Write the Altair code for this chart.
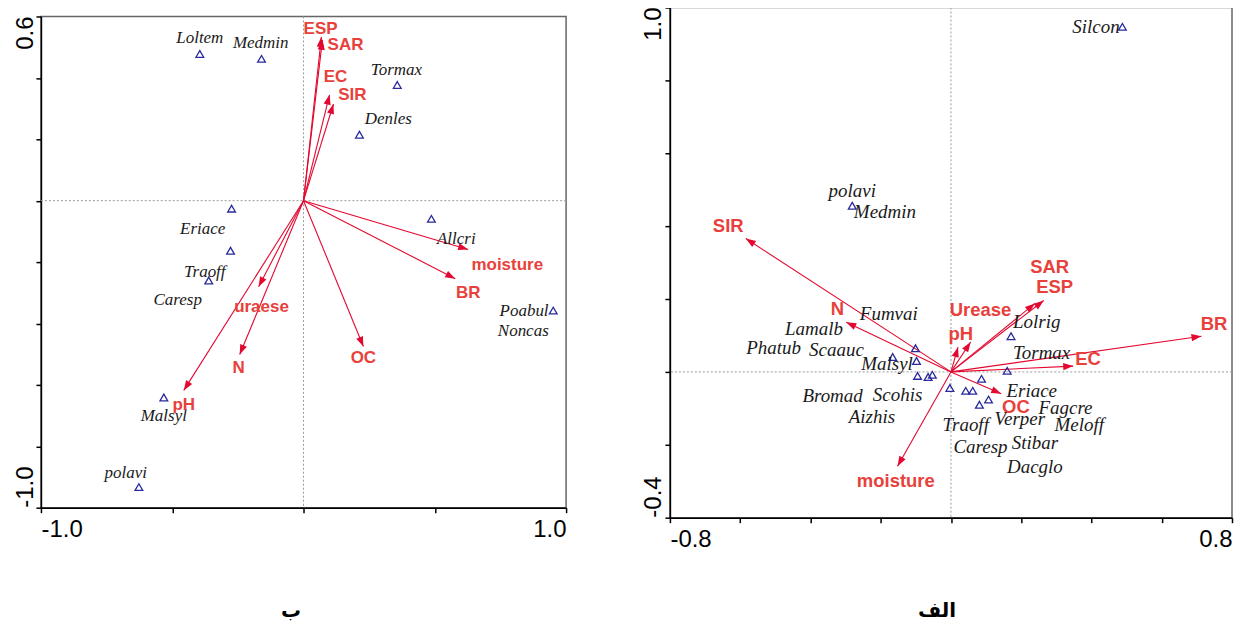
import math
import altair as alt
import pandas as pd

# ---------------- Left panel (ب) ----------------
L_sp_x = [-0.395, -0.160, 0.357, 0.213, 0.487, -0.274, -0.278, -0.361, -0.532, -0.627, 0.951]
L_sp_y = [0.478, 0.462, 0.377, 0.215, -0.059, -0.026, -0.163, -0.260, -0.641, -0.933, -0.358]
L_lab_names = ["Loltem", "Medmin", "Tormax", "Denles", "Allcri", "Eriace", "Traoff", "Caresp",
               "Malsyl", "polavi", "Poabul", "Noncas"]
L_lab_x = [-0.395, -0.163, 0.354, 0.323, 0.582, -0.384, -0.376, -0.479, -0.532, -0.677, 0.840, 0.837]
L_lab_y = [0.530, 0.514, 0.426, 0.267, -0.124, -0.091, -0.231, -0.325, -0.702, -0.888, -0.358, -0.426]
L_env_names = ["ESP", "SAR", "EC", "SIR", "moisture", "BR", "OC", "uraese", "N", "pH"]
L_env_x = [0.068, 0.072, 0.099, 0.114, 0.627, 0.578, 0.228, -0.171, -0.243, -0.456]
L_env_y = [0.533, 0.524, 0.345, 0.315, -0.159, -0.254, -0.475, -0.280, -0.501, -0.618]
L_envlab_x = [0.065, 0.160, 0.122, 0.186, 0.776, 0.627, 0.228, -0.160, -0.247, -0.456]
L_envlab_y = [0.559, 0.507, 0.403, 0.345, -0.208, -0.302, -0.514, -0.345, -0.546, -0.667]
L_xticks = [-1.0, -0.5, 0.0, 0.5, 1.0]
L_yticks = [-1.0, -0.8, -0.6, -0.4, -0.2, 0.0, 0.2, 0.4, 0.6]
L_xticklabels = {-1.0: "-1.0", 1.0: "1.0"}
L_yticklabels = {-1.0: "-1.0", 0.6: "0.6"}
L_caption = "ب"

# ---------------- Right panel (الف) ----------------
R_sp_x = [0.488, -0.281, -0.101, -0.166, -0.098, -0.095, -0.065, -0.053, -0.003, 0.042, 0.062,
          0.081, 0.107, 0.087, 0.160, 0.171]
R_sp_y = [0.947, 0.456, 0.065, 0.041, 0.030, -0.011, -0.014, -0.008, -0.044, -0.052, -0.052,
          -0.090, -0.076, -0.019, 0.003, 0.098]
R_lab_names = ["Silcon", "polavi", "Medmin", "Fumvai", "Lamalb", "Phatub", "Scaauc", "Malsyl",
               "Bromad", "Scohis", "Aizhis", "Traoff", "Caresp", "Verper", "Stibar", "Dacglo",
               "Eriace", "Fagcre", "Meloff", "Tormax", "Lolrig"]
R_lab_x = [0.413, -0.281, -0.188, -0.177, -0.390, -0.505, -0.326, -0.182, -0.337, -0.152, -0.225,
           0.042, 0.084, 0.196, 0.239, 0.239, 0.230, 0.326, 0.365, 0.258, 0.244]
R_lab_y = [0.947, 0.497, 0.439, 0.158, 0.117, 0.065, 0.060, 0.022, -0.065, -0.063, -0.123,
           -0.147, -0.207, -0.128, -0.196, -0.262, -0.052, -0.098, -0.147, 0.052, 0.136]
R_env_names = ["SIR", "N", "moisture", "pH", "Urease", "SAR", "ESP", "BR", "EC", "OC"]
R_env_x = [-0.584, -0.298, -0.152, 0.020, 0.056, 0.239, 0.264, 0.713, 0.348, 0.143]
R_env_y = [0.366, 0.136, -0.259, 0.068, 0.082, 0.188, 0.196, 0.098, 0.016, -0.060]
R_envlab_x = [-0.634, -0.323, -0.157, 0.028, 0.084, 0.281, 0.295, 0.749, 0.390, 0.185]
R_envlab_y = [0.401, 0.172, -0.300, 0.104, 0.169, 0.289, 0.232, 0.131, 0.035, -0.095]
R_xticks = [-0.8, -0.6, -0.4, -0.2, 0.0, 0.2, 0.4, 0.6, 0.8]
R_yticks = [-0.4, -0.2, 0.0, 0.2, 0.4, 0.6, 0.8, 1.0]
R_xticklabels = {-0.8: "-0.8", 0.8: "0.8"}
R_yticklabels = {-0.4: "-0.4", 1.0: "1.0"}
R_caption = "الف"

ARROW = "#e3082f"
LABEL_RED = "#e8413c"
TRI = "#2a2a9c"
HEAD = "M0,0 L-0.36,1 L0.36,1 Z"


def panel(sp_x, sp_y, lab_names, lab_x, lab_y, env_names, env_x, env_y, envlab_x, envlab_y,
          xdom, ydom, xticks, yticks, xticklabels, yticklabels, width, height,
          sp_font, env_font, caption, cap_x, cap_y, ylab_dy):
    kx = width / (xdom[1] - xdom[0])
    ky = height / (ydom[1] - ydom[0])
    expr = " : ".join(f"datum.value == {v} ? '{t}'" for v, t in xticklabels.items()) + " : ''"
    ax = alt.Axis(values=xticks, labelExpr=expr, labelFlush=True, title=caption,
                  titleX=cap_x, titleY=cap_y, titleBaseline="middle", titleAlign="center",
                  titleFont="DejaVu Sans", titleFontSize=20, titleFontWeight="bold")
    ay = alt.Axis(values=yticks, labels=False, title=None)
    sx = alt.Scale(domain=xdom, nice=False, zero=False)
    sy = alt.Scale(domain=ydom, nice=False, zero=False)
    X = alt.X("x:Q", scale=sx, axis=ax)
    Y = alt.Y("y:Q", scale=sy, axis=ay)

    env = pd.DataFrame({"name": env_names, "x": env_x, "y": env_y,
                        "ox": [0.0] * len(env_x), "oy": [0.0] * len(env_x)})
    env["ang"] = [(math.degrees(math.atan2(a * kx, b * ky)) + 360) % 360 for a, b in zip(env_x, env_y)]
    envlab = pd.DataFrame({"name": env_names, "x": envlab_x, "y": envlab_y})
    sp = pd.DataFrame({"x": sp_x, "y": sp_y})
    lab = pd.DataFrame({"name": lab_names, "x": lab_x, "y": lab_y})

    zero_h = alt.Chart(pd.DataFrame({"y": [0.0]})).mark_rule(
        color="#9a9a9a", strokeDash=[2, 2], strokeWidth=1).encode(y=Y)
    zero_v = alt.Chart(pd.DataFrame({"x": [0.0]})).mark_rule(
        color="#9a9a9a", strokeDash=[2, 2], strokeWidth=1).encode(x=X)
    lines = alt.Chart(env).mark_rule(color=ARROW, strokeWidth=1.1).encode(
        x=X, y=Y, x2="ox:Q", y2="oy:Q")
    heads = alt.Chart(env).mark_point(shape=HEAD, filled=True, color=ARROW, opacity=1,
                                      size=400, strokeWidth=0).encode(
        x=X, y=Y, angle=alt.Angle("ang:Q", scale=None))
    tri = alt.Chart(sp).mark_point(shape="triangle-up", filled=False, color=TRI,
                                   size=60, strokeWidth=1.3, opacity=1).encode(x=X, y=Y)
    splab = alt.Chart(lab).mark_text(font="Liberation Serif", fontStyle="italic",
                                     fontSize=sp_font, color="#1a1a1a",
                                     baseline="middle").encode(x=X, y=Y, text="name:N")
    elab = alt.Chart(envlab).mark_text(font="Liberation Sans", fontWeight="bold",
                                       fontSize=env_font, color=LABEL_RED,
                                       baseline="middle").encode(x=X, y=Y, text="name:N")
    ykeys = sorted(yticklabels.keys())
    ytop = alt.Chart(pd.DataFrame({"x": [xdom[0]], "y": [ykeys[-1]], "t": [yticklabels[ykeys[-1]]]})).mark_text(
        angle=270, align="right", baseline="alphabetic", dy=ylab_dy, font="Liberation Sans",
        fontSize=24, color="black").encode(x=X, y=Y, text="t:N")
    ybot = alt.Chart(pd.DataFrame({"x": [xdom[0]], "y": [ykeys[0]], "t": [yticklabels[ykeys[0]]]})).mark_text(
        angle=270, align="left", baseline="alphabetic", dy=ylab_dy, font="Liberation Sans",
        fontSize=24, color="black").encode(x=X, y=Y, text="t:N")
    return alt.layer(zero_h, zero_v, lines, heads, tri, splab, elab, ytop, ybot).properties(
        width=width, height=height)


left = panel(L_sp_x, L_sp_y, L_lab_names, L_lab_x, L_lab_y, L_env_names, L_env_x, L_env_y,
             L_envlab_x, L_envlab_y, [-1.0, 1.0], [-1.0, 0.6], L_xticks, L_yticks,
             L_xticklabels, L_yticklabels, 526, 492, 17, 17, L_caption, 250, 103, -8)

spacer = alt.Chart(pd.DataFrame({"a": [0]})).mark_point(opacity=0, size=1).encode(
    x=alt.value(0), y=alt.value(1)).properties(width=10, height=1,
                                               view=alt.ViewBackground(strokeOpacity=0))
left_col = alt.vconcat(spacer, left, spacing=5)

right = panel(R_sp_x, R_sp_y, R_lab_names, R_lab_x, R_lab_y, R_env_names, R_env_x, R_env_y,
              R_envlab_x, R_envlab_y, [-0.8, 0.8], [-0.4, 1.0], R_xticks, R_yticks,
              R_xticklabels, R_yticklabels, 563, 511, 19, 18.5, R_caption, 267, 93, -9)

chart = alt.hconcat(left_col, right, spacing=73).properties(
    padding={"left": 5, "top": -3, "right": 0, "bottom": 0}
).configure_view(stroke="#666666", strokeWidth=1.5).configure_axis(
    domainColor="black", domainWidth=1.5, tickColor="black", tickWidth=1.5, tickSize=5,
    grid=False, labelFont="Liberation Sans", labelFontSize=24, labelColor="black",
    labelPadding=5, titleColor="black"
)

chart.save("out.html", embed_options={"renderer": "svg", "actions": False})
